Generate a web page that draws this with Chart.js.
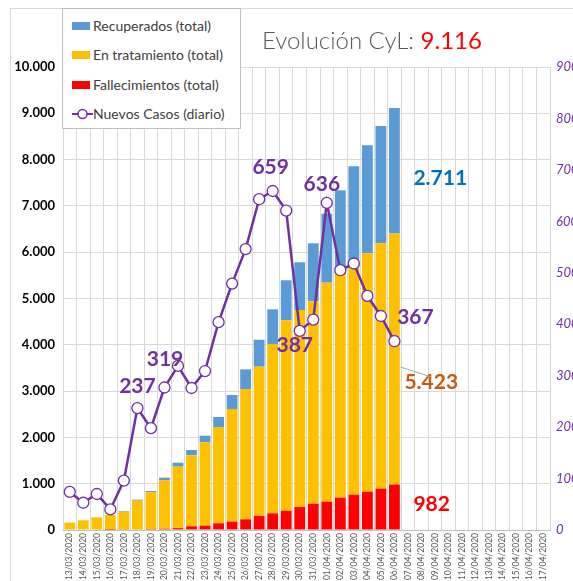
<!DOCTYPE html>
<html>
<head>
<meta charset="utf-8">
<script src="https://cdn.jsdelivr.net/npm/chart.js@4"></script>
<style>
  html, body { margin: 0; padding: 0; background: #fff; overflow: hidden; }
  #wrap { position: relative; width: 590px; height: 581px; }
  #frame { position: absolute; left: 10px; top: 8px; width: 700px; height: 700px; border-left: 1px solid #d9d9d9; border-top: 1px solid #d9d9d9; }
  #legend { position: absolute; left: 62px; top: 8px; width: 177px; height: 119px; background: #fff; border: 1px solid #bfbfbf; font-family: Lato, "Open Sans", sans-serif; font-size: 14px; color: #404040; z-index: 2; }
  .item { position: absolute; left: 9px; height: 18px; line-height: 18px; white-space: nowrap; }
  .sw { display: inline-block; width: 18px; height: 8px; vertical-align: middle; margin-right: 3px; position: relative; top: -1px; }
  #title { position: absolute; left: 262px; top: 25px; font-family: Lato, "Open Sans", sans-serif; font-weight: 300; font-size: 24px; color: #595959; white-space: nowrap; z-index: 2; }
  #title span { color: #ff0000; font-weight: 400; }
  canvas { position: absolute; left: 0; top: 0; }
</style>
</head>
<body>
<div id="wrap">
  <div id="frame"></div>
  <canvas id="chart" width="590" height="581"></canvas>
  <div id="legend">
    <div class="item" style="top:8px"><span class="sw" style="background:#5b9bd5"></span>Recuperados (total)</div>
    <div class="item" style="top:37px"><span class="sw" style="background:#ffc000"></span>En tratamiento (total)</div>
    <div class="item" style="top:67px"><span class="sw" style="background:#ff0000"></span>Fallecimientos (total)</div>
    <div class="item" style="top:96px"><svg width="21" height="12" style="vertical-align:middle;position:relative;top:-1px"><line x1="0" y1="6" x2="21" y2="6" stroke="#7030a0" stroke-width="2"/><circle cx="10.5" cy="6" r="4.5" fill="#fff" stroke="#7030a0" stroke-width="1.5"/></svg>Nuevos Casos (diario)</div>
  </div>
  <div id="title">Evolución CyL: <span>9.116</span></div>
</div>
<script>
// fechas del eje X (13/03 a 17/04)
const dates = ['13/03/2020','14/03/2020','15/03/2020','16/03/2020','17/03/2020','18/03/2020','19/03/2020','20/03/2020',
  '21/03/2020','22/03/2020','23/03/2020','24/03/2020','25/03/2020','26/03/2020','27/03/2020','28/03/2020','29/03/2020',
  '30/03/2020','31/03/2020','01/04/2020','02/04/2020','03/04/2020','04/04/2020','05/04/2020','06/04/2020','07/04/2020',
  '08/04/2020','09/04/2020','10/04/2020','11/04/2020','12/04/2020','13/04/2020','14/04/2020','15/04/2020','16/04/2020','17/04/2020'];

// totales acumulados
const fallecidos  = [0, 0, 0, 3, 8, 10, 20, 25, 40, 80, 95, 145, 180, 231, 302, 360, 417, 497, 568, 611, 698, 763, 828, 893, 982];
const tratamiento = [160, 209, 274, 321, 387, 623, 794, 1048, 1328, 1533, 1799, 2080, 2434, 2815, 3226, 3658, 4112, 4255, 4372, 4731, 4847, 4997, 5148, 5299, 5423];
const recuperados = [0, 0, 0, 0, 15, 22, 28, 57, 86, 115, 143, 216, 302, 424, 582, 748, 864, 1030, 1252, 1491, 1792, 2095, 2333, 2534, 2711];
// nuevos casos diarios (eje derecho)
const nuevos = [74, 53, 70, 40, 96, 237, 198, 277, 319, 276, 309, 404, 479, 546, 643, 659, 621, 387, 409, 636, 505, 518, 455, 416, 367];

const leftMax = 10000, leftStep = 1000;
const rightMax = 900, rightStep = 100;

// etiquetas de valores sobre la línea: [índice, dx, dy]
const caseLabels = [[5, 0, -22], [8, -13, -7], [15, -2, -24], [17, -5, 14], [19, -5, -19], [24, 21, -24]];

const fmt = v => v.toLocaleString('de-DE');
const last = recuperados.length - 1;

const labelsPlugin = {
  id: 'labels',
  afterDatasetsDraw(chart) {
    const { ctx, scales: { x, y, y1 } } = chart;
    ctx.save();
    ctx.textAlign = 'center';
    ctx.textBaseline = 'middle';
    ctx.font = 'bold 21px Lato, "Open Sans", sans-serif';
    ctx.fillStyle = '#7030a0';
    caseLabels.forEach(([i, dx, dy]) => {
      ctx.fillText(nuevos[i], x.getPixelForValue(i) + dx, y1.getPixelForValue(nuevos[i]) + dy);
    });
    const lx = x.getPixelForValue(last) + 19;
    const f = fallecidos[last], t = tratamiento[last], r = recuperados[last];
    ctx.textAlign = 'left';
    ctx.fillStyle = '#0070c0';
    ctx.fillText(fmt(r), lx, y.getPixelForValue(f + t + r / 2) + 8);
    ctx.fillStyle = '#c55a11';
    const ty = y.getPixelForValue(f + t / 2) + 23;
    ctx.fillText(fmt(t), lx - 9, ty);
    ctx.fillStyle = '#ff0000';
    ctx.fillText(fmt(f), lx, y.getPixelForValue(f / 2) - 3);
    // línea guía
    ctx.strokeStyle = '#a6a6a6';
    ctx.lineWidth = 1;
    ctx.beginPath();
    ctx.moveTo(x.getPixelForValue(last) + 6, ty - 15);
    ctx.lineTo(lx + 18, ty - 5);
    ctx.stroke();
    ctx.restore();
  }
};

new Chart(document.getElementById('chart'), {
  data: {
    labels: dates,
    datasets: [
      { type: 'line', label: 'Nuevos Casos (diario)', data: nuevos, yAxisID: 'y1', order: 0,
        borderColor: '#7030a0', borderWidth: 2.5, pointRadius: 5.5, pointBackgroundColor: '#fff',
        pointBorderColor: '#7030a0', pointBorderWidth: 1.3, tension: 0 },
      { type: 'bar', label: 'Fallecimientos (total)', data: fallecidos, backgroundColor: '#ff0000', order: 1 },
      { type: 'bar', label: 'En tratamiento (total)', data: tratamiento, backgroundColor: '#ffc000', order: 1 },
      { type: 'bar', label: 'Recuperados (total)', data: recuperados, backgroundColor: '#5b9bd5', order: 1 }
    ]
  },
  options: {
    responsive: false,
    animation: false,
    layout: { padding: { top: 67, left: 0, right: 0, bottom: 0 } },
    datasets: { bar: { barPercentage: 0.8, categoryPercentage: 1 } },
    plugins: { legend: { display: false }, tooltip: { enabled: false } },
    scales: {
      x: {
        stacked: true,
        grid: { color: '#d9d9d9', drawTicks: false, offset: true },
        border: { color: '#bfbfbf' },
        ticks: { autoSkip: false, minRotation: 90, maxRotation: 90, padding: 3,
          color: '#595959', font: { family: 'Lato, "Open Sans", sans-serif', size: 8.5 } },
        afterFit: s => { s.height = 51; }
      },
      y: {
        stacked: true, min: 0, max: leftMax,
        grid: { color: '#d9d9d9', drawTicks: false },
        border: { display: false },
        ticks: { stepSize: leftStep, padding: 8, color: '#000',
          font: { family: 'Lato, "Open Sans", sans-serif', size: 13, weight: 'bold' },
          callback: v => fmt(v) },
        afterFit: s => { s.width = 63; }
      },
      y1: {
        position: 'right', min: 0, max: rightMax,
        grid: { display: false, drawTicks: false },
        border: { display: false },
        ticks: { stepSize: rightStep, padding: 6, color: '#7030a0',
          font: { family: 'Lato, "Open Sans", sans-serif', size: 13, style: 'italic' } },
        afterFit: s => { s.width = 40; }
      }
    }
  },
  plugins: [labelsPlugin]
});
</script>
</body>
</html>
